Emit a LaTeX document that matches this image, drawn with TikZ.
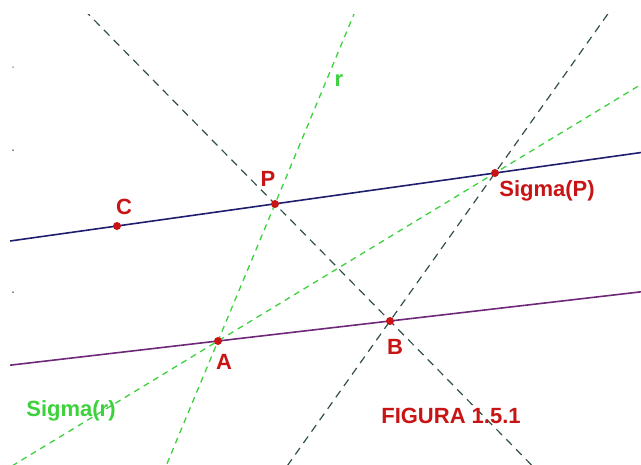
\documentclass[tikz,border=0pt]{standalone}
\usepackage{fontspec}
\setmainfont{Liberation Sans}
\usetikzlibrary{calc}
\definecolor{navy}{RGB}{30,30,110}
\definecolor{purp}{RGB}{110,40,120}
\definecolor{grn}{RGB}{60,210,60}
\definecolor{dslate}{RGB}{50,80,70}
\definecolor{ptred}{RGB}{200,20,20}
\begin{document}
\begin{tikzpicture}[x=1pt,y=-1pt,
  solidline/.style={line width=1.6pt},
  gdash/.style={grn, line width=1.3pt, dash pattern=on 6pt off 5pt},
  kdash/.style={dslate, line width=1.2pt, dash pattern=on 8pt off 6pt},
  pt/.style={circle, fill=ptred, inner sep=0pt, minimum size=8pt},
  lab/.style={font=\fontsize{22}{22}\selectfont\bfseries, inner sep=0pt},
  redlab/.style={lab, text=ptred},
  grnlab/.style={lab, text=grn},
  tick/.style={circle, fill=black, inner sep=0pt, minimum size=1.5pt},
]
\useasboundingbox (0,0) rectangle (641,464);
\coordinate (C) at (117,226);
\coordinate (P) at (275,204);
\coordinate (SP) at (495,173);
\coordinate (A) at (218,341);
\coordinate (B) at (390,321);
\begin{scope}
\clip (10,14) rectangle (641,464);
\draw[kdash] ($(P)!-2!(B)$) -- ($(P)!4!(B)$);
\draw[kdash] ($(SP)!-2!(B)$) -- ($(SP)!3!(B)$);
\draw[gdash] ($(P)!-2!(A)$) -- ($(P)!3!(A)$);
\draw[gdash] ($(A)!-2!(SP)$) -- ($(A)!3!(SP)$);
\draw[solidline, navy] ($(C)!-1!(SP)$) -- ($(C)!2!(SP)$);
\draw[solidline, purp] ($(A)!-2!(B)$) -- ($(A)!3!(B)$);
\end{scope}
\node[pt] (nC) at (C) {};
\node[pt] (nP) at (P) {};
\node[pt] (nSP) at (SP) {};
\node[pt] (nA) at (A) {};
\node[pt] (nB) at (B) {};
\node[tick, fill=grn!60!black] (t1) at (13,67) {};
\node[tick] (t2) at (13,150) {};
\node[tick] (t3) at (13,292) {};
\node[grnlab] (lr) at (339,81) {r};
\node[redlab] (lP) at (268,179) {P};
\node[redlab] (lC) at (124,207) {C};
\node[redlab] (lSP) at (547,191) {Sigma(P)};
\node[redlab] (lA) at (224,362) {A};
\node[redlab] (lB) at (395,347) {B};
\node[grnlab] (lSr) at (71,411) {Sigma(r)};
\node[redlab] (lF) at (451,416) {FIGURA 1.5.1};
\end{tikzpicture}
\end{document}
